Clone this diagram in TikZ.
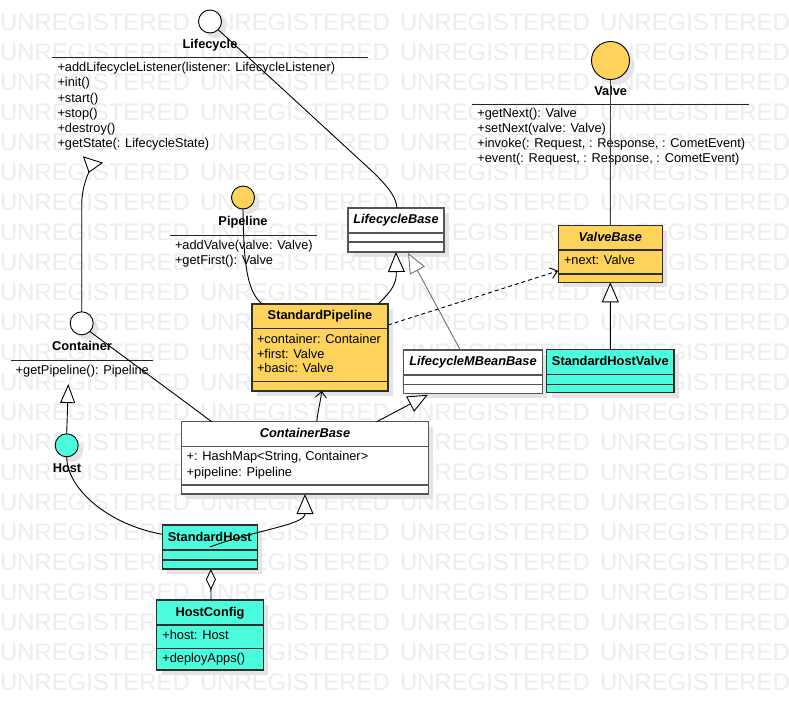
\documentclass[tikz,border=0pt]{standalone}
\usepackage{fontspec}
\setmainfont{Liberation Sans}
\usetikzlibrary{arrows.meta,calc,shadows}
\definecolor{ylw}{HTML}{FED35B}
\definecolor{cyn}{HTML}{4BFCDD}
\definecolor{bordw}{HTML}{555555}
\definecolor{bordc}{HTML}{2E2E2E}
\definecolor{wmc}{HTML}{EDEDED}
\definecolor{shdc}{HTML}{E4E4E4}
\begin{document}
\begin{tikzpicture}[x=1pt,y=-1pt,
  every node/.style={inner sep=0pt, outer sep=0pt, font=\fontsize{12.8}{15}\selectfont, text height=9.6pt, text depth=3pt},
  ttl/.style={font=\fontsize{12.8}{15}\selectfont\bfseries},
  abst/.style={font=\fontsize{12.8}{15}\selectfont\bfseries\itshape},
  mem/.style={anchor=west},
  wmk/.style={anchor=west, text=wmc, font=\fontsize{23.9}{24}\selectfont, text height=16.7pt, text depth=0pt},
  shd/.style={general shadow={fill=shdc, shadow xshift=5pt, shadow yshift=-5pt}},
  wbox/.style={rectangle, anchor=north west, draw=bordw, fill=white, line width=1.3pt, shd},
  ybox/.style={wbox, draw=bordc, fill=ylw},
  cbox/.style={wbox, draw=bordc, fill=cyn},
  divw/.style={draw=bordw, line width=1.3pt},
  divc/.style={draw=bordc, line width=1.3pt},
  circ/.style={circle, draw=black, line width=0.9pt, minimum size=#1, shd},
  ifline/.style={draw=black!85, line width=1pt},
  ln/.style={draw=black, line width=0.9pt},
  gln/.style={draw=black!55, line width=0.9pt},
  gen/.style={-{Triangle[open, fill=white, length=20pt, width=17pt]}},
  nav/.style={-{Straight Barb[length=6pt, width=11pt]}},
  dep/.style={dash pattern=on 4pt off 3pt, -{Straight Barb[length=7pt, width=11pt]}}
]
\useasboundingbox (0,0) rectangle (789,710);
\fill[white] (0,0) rectangle (789,710);
% watermark
\begin{scope}
\clip (0,0) rectangle (789,710);
\foreach \r in {0,...,22} {
  \foreach \c in {0,200,400,600} {
    \node[wmk] (wm-\r-\c) at (\c, 21.7+30*\r) {UNREGISTERED};
  }
}
\end{scope}

% ---------- interfaces ----------
% Lifecycle
\node[circ=23pt, fill=white] (lc) at (210,21.5) {};
\node[ttl] (lc-t) at (210,45) {Lifecycle};
\draw[ifline] (52,57.5) -- (368,57.5);
\node[mem] (lc-m1) at (57.5,68.5) {+addLifecycleListener(listener: LifecycleListener)};
\node[mem] (lc-m2) at (57.5,83.6) {+init()};
\node[mem] (lc-m3) at (57.5,98.7) {+start()};
\node[mem] (lc-m4) at (57.5,113.8) {+stop()};
\node[mem] (lc-m5) at (57.5,128.9) {+destroy()};
\node[mem] (lc-m6) at (57.5,144) {+getState(: LifecycleState)};

% Pipeline
\node[circ=23pt, fill=ylw] (pc) at (243,197.5) {};
\node[ttl] (pc-t) at (243,222.5) {Pipeline};
\draw[ifline] (170,235) -- (317,235);
\node[mem] (pc-m1) at (175,246.5) {+addValve(valve: Valve)};
\node[mem] (pc-m2) at (175,261) {+getFirst(): Valve};

% Valve
\node[circ=38pt, fill=ylw] (vc) at (610.5,60.5) {};
\node[ttl] (vc-t) at (610.7,91.7) {Valve};
\draw[ifline] (471.7,104) -- (749.3,104);
\node[mem] (vc-m1) at (477.3,114.3) {+getNext(): Valve};
\node[mem] (vc-m2) at (477.3,129.3) {+setNext(valve: Valve)};
\node[mem] (vc-m3) at (477.3,144.3) {+invoke(: Request, : Response, : CometEvent)};
\node[mem] (vc-m4) at (477.3,159.3) {+event(: Request, : Response, : CometEvent)};

% Container
\node[circ=23pt, fill=white] (ct) at (81.7,323.3) {};
\node[ttl] (ct-t) at (82,347.3) {Container};
\draw[ifline] (10.7,360) -- (152.7,360);
\node[mem] (ct-m1) at (15.7,370.7) {+getPipeline(): Pipeline};

% Host
\node[circ=23pt, fill=cyn] (hc) at (66.7,445.3) {};
\node[ttl] (hc-t) at (67,469.3) {Host};

% ---------- classes ----------
% LifecycleBase
\node[wbox, minimum width=96pt, minimum height=44pt] (lb) at (348,208) {};
\draw[divw] ($(lb.north west)+(0,25)$) -- ($(lb.north east)+(0,25)$);
\draw[divw] ($(lb.north west)+(0,34)$) -- ($(lb.north east)+(0,34)$);
\node[abst] (lb-t) at (396,220.5) {LifecycleBase};

% ValveBase
\node[ybox, minimum width=104pt, minimum height=56.6pt] (vb) at (558.3,225.7) {};
\draw[divc] ($(vb.north west)+(0,24.3)$) -- ($(vb.north east)+(0,24.3)$);
\draw[divc] ($(vb.north west)+(0,48.3)$) -- ($(vb.north east)+(0,48.3)$);
\node[abst] (vb-t) at (610.3,237.7) {ValveBase};
\node[mem] (vb-a1) at (564,261) {+next: Valve};

% StandardPipeline
\node[ybox, minimum width=136pt, minimum height=87pt] (sp) at (252,304) {};
\draw[divc] ($(sp.north west)+(0,24.3)$) -- ($(sp.north east)+(0,24.3)$);
\draw[divc] ($(sp.north west)+(0,77.7)$) -- ($(sp.north east)+(0,77.7)$);
\node[ttl] (sp-t) at (320,316.5) {StandardPipeline};
\node[mem] (sp-a1) at (257,340) {+container: Container};
\node[mem] (sp-a2) at (257,355) {+first: Valve};
\node[mem] (sp-a3) at (257,369.5) {+basic: Valve};

% LifecycleMBeanBase
\node[wbox, minimum width=139pt, minimum height=43.3pt] (lmb) at (403.3,350) {};
\draw[divw] ($(lmb.north west)+(0,25)$) -- ($(lmb.north east)+(0,25)$);
\draw[divw] ($(lmb.north west)+(0,34.3)$) -- ($(lmb.north east)+(0,34.3)$);
\node[abst] (lmb-t) at (473,362.3) {LifecycleMBeanBase};

% StandardHostValve
\node[cbox, minimum width=127.3pt, minimum height=43.4pt] (shv) at (546.7,349.3) {};
\draw[divc] ($(shv.north west)+(0,25)$) -- ($(shv.north east)+(0,25)$);
\draw[divc] ($(shv.north west)+(0,35)$) -- ($(shv.north east)+(0,35)$);
\node[ttl] (shv-t) at (610.3,361.7) {StandardHostValve};

% ContainerBase
\node[wbox, minimum width=246.6pt, minimum height=72.3pt] (cb) at (181.7,421.7) {};
\draw[divw] ($(cb.north west)+(0,25)$) -- ($(cb.north east)+(0,25)$);
\draw[divw] ($(cb.north west)+(0,63.3)$) -- ($(cb.north east)+(0,63.3)$);
\node[abst] (cb-t) at (305,434.3) {ContainerBase};
\node[mem] (cb-a1) at (186.7,457.3) {+: HashMap<String, Container>};
\node[mem] (cb-a2) at (186.7,472.7) {+pipeline: Pipeline};

% StandardHost
\node[cbox, minimum width=95pt, minimum height=44pt] (sh) at (162.3,525) {};
\draw[divc] ($(sh.north west)+(0,25)$) -- ($(sh.north east)+(0,25)$);
\draw[divc] ($(sh.north west)+(0,35)$) -- ($(sh.north east)+(0,35)$);
\node[ttl] (sh-t) at (209.8,537.7) {StandardHost};

% HostConfig
\node[cbox, minimum width=106.6pt, minimum height=70pt] (hcfg) at (156.7,600) {};
\draw[divc] ($(hcfg.north west)+(0,25)$) -- ($(hcfg.north east)+(0,25)$);
\draw[divc] ($(hcfg.north west)+(0,48.3)$) -- ($(hcfg.north east)+(0,48.3)$);
\node[ttl] (hcfg-t) at (210,612.7) {HostConfig};
\node[mem] (hcfg-a1) at (162.3,635.7) {+host: Host};
\node[mem] (hcfg-o1) at (162.3,659) {+deployApps()};

% ---------- connectors ----------
\coordinate (lcb) at (93,159.5);
\coordinate (ctb) at (68.3,384);

% Lifecycle -- LifecycleBase
\draw[ln] (lc.-45) -- (374,173) .. controls (389,188) and (396,197) .. ($(lb.north west)+(49,0)$);
% Pipeline -- StandardPipeline
\draw[ln] (pc.south) .. controls (243.5,268) and (248,292) .. ($(sp.north west)+(10,0)$);
% StandardPipeline -> LifecycleBase
\draw[ln, gen] ($(sp.north east)+(-10,0)$) .. controls (393,290) and (396.5,283) .. (lb.south);
% LifecycleMBeanBase -> LifecycleBase
\draw[gln, gen] ($(lmb.north west)+(57,0)$) -- ($(lb.south)+(12,1)$);
% Valve -- ValveBase
\draw[ln, draw=black!75] (vc.south) -- (vb.north);
% StandardHostValve -> ValveBase
\draw[ln, gen] (shv.north) -- (vb.south);
% StandardPipeline ..> ValveBase
\draw[ln, dep] ($(sp.north east)+(0,21)$) -- ($(vb.south west)+(0,-11.5)$);
% ContainerBase -> StandardPipeline
\draw[ln, nav] ($(cb.north west)+(135,0)$) .. controls (318,410) and (320.5,402) .. ($(sp.south west)+(69.7,0)$);
% ContainerBase -> LifecycleMBeanBase
\draw[ln, gen] ($(cb.north west)+(195,0)$) -- ($(lmb.south west)+(24.5,1.5)$);
% Container -- ContainerBase
\draw[ln] (ct.-45) .. controls (135,365) and (180,398) .. ($(cb.north west)+(30,0)$);
% Container -> Lifecycle
\draw[ln, -{Triangle[reversed, open, fill=white, length=14pt, width=21pt]}] (ct.north) -- (81.7,205) .. controls (81.7,186) and (89,172) .. (lcb);
% Host -> Container
\draw[ln, -{Triangle[open, fill=white, length=19pt, width=15pt]}] (hc.north) -- (ctb);
% Host -- StandardHost
\draw[ln] (hc.south) .. controls (67,490) and (110,525) .. ($(sh.north west)+(0,9.3)$);
% StandardHost -> ContainerBase
\draw[ln, gen] (sh.center) .. controls (255,530) and (305,525) .. (cb.south);
% StandardHost <>-- HostConfig
\draw[ln, {Diamond[open, fill=white, length=21pt, width=10pt]}-] ($(sh.south)+(1,0)$) -- ($(hcfg.north)+(1,0)$);
\end{tikzpicture}
\end{document}
